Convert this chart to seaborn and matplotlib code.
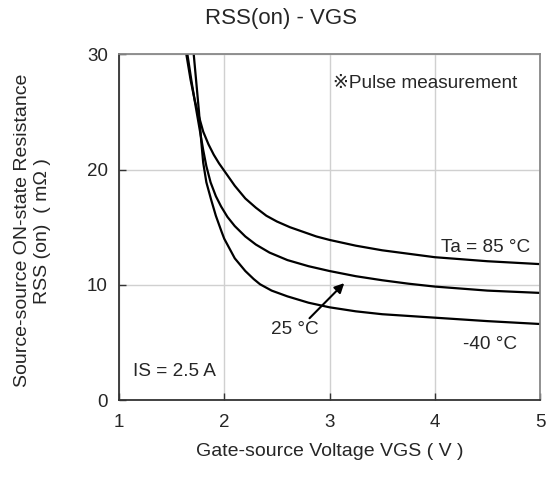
import pandas as pd
import seaborn as sns
import matplotlib.pyplot as plt

# VGS [V] -> RSS(on) [mOhm]
vgs_85 = [1.64, 1.68, 1.72, 1.76, 1.80, 1.85, 1.90, 1.95, 2.00, 2.10, 2.20,
          2.30, 2.40, 2.50, 2.625, 2.75, 2.875, 3.00, 3.25, 3.50, 3.75,
          4.00, 4.50, 5.00]
rss_85 = [30.0, 27.8, 26.0, 24.6, 23.3, 22.2, 21.3, 20.55, 19.9, 18.6, 17.5,
          16.7, 16.0, 15.5, 15.0, 14.6, 14.2, 13.9, 13.4, 13.0, 12.7,
          12.4, 12.05, 11.8]

vgs_25 = [1.65, 1.69, 1.73, 1.77, 1.80, 1.83, 1.87, 1.92, 1.97, 2.03, 2.10,
          2.20, 2.30, 2.43, 2.60, 2.80, 3.00, 3.25, 3.50, 3.75, 4.00, 4.50,
          5.00]
rss_25 = [30.0, 27.6, 25.4, 23.3, 21.7, 20.3, 18.9, 17.7, 16.8, 15.9, 15.1,
          14.2, 13.5, 12.8, 12.15, 11.62, 11.2, 10.75, 10.4, 10.1, 9.85, 9.5,
          9.3]

vgs_m40 = [1.71, 1.73, 1.76, 1.78, 1.80, 1.83, 1.875, 1.92, 1.975, 2.00, 2.10,
           2.20, 2.28, 2.34, 2.45, 2.60, 2.80, 3.00, 3.25, 3.50, 3.75, 4.00,
           4.50, 5.00]
rss_m40 = [30.0, 28.0, 25.0, 22.6, 20.6, 18.9, 17.4, 16.0, 14.6, 14.0, 12.3,
           11.2, 10.5, 10.05, 9.5, 9.0, 8.45, 8.05, 7.7, 7.45, 7.3, 7.15,
           6.85, 6.6]

temps = ['85', '25', '-40']

df = pd.concat([
    pd.DataFrame({'vgs': vgs_85, 'rss': rss_85, 'ta': '85'}),
    pd.DataFrame({'vgs': vgs_25, 'rss': rss_25, 'ta': '25'}),
    pd.DataFrame({'vgs': vgs_m40, 'rss': rss_m40, 'ta': '-40'}),
])

sns.set_style('white')
plt.rcParams['font.family'] = ['Liberation Sans', 'DejaVu Sans', 'Noto Sans CJK JP']

fig = plt.figure(figsize=(5.5, 4.83), dpi=100)
ax = fig.add_axes([0.2164, 0.1718, 0.7654, 0.7154])

sns.lineplot(data=df, x='vgs', y='rss', hue='ta', hue_order=temps,
             palette=['black'] * 3, linewidth=1.6, sort=False,
             legend=False, ax=ax)

ax.set_xlim(1, 5)
ax.set_ylim(0, 30)
ax.set_xticks([1, 2, 3, 4, 5])
ax.set_yticks([0, 10, 20, 30])
ax.grid(True, color='#d0d0d0', linewidth=1.0)
ax.set_axisbelow(True)

for side in ['left', 'bottom']:
    ax.spines[side].set_color('#333333')
    ax.spines[side].set_linewidth(1.3)
for side in ['top', 'right']:
    ax.spines[side].set_color('#888888')
    ax.spines[side].set_linewidth(1.3)

ax.tick_params(axis='both', direction='in', length=5, width=1.0,
               color='#333333', labelsize=13.5, left=True, bottom=True)
ax.tick_params(axis='x', pad=10)
ax.tick_params(axis='y', pad=8)

ax.set_xlabel('Gate-source Voltage VGS ( V )', fontsize=14)
ax.xaxis.set_label_coords(0.5, -0.125)
ax.set_ylabel('Source-source ON-state Resistance\nRSS (on)  ( m\u03a9 )',
              fontsize=14, linespacing=1.25)
ax.yaxis.set_label_coords(-0.162, 0.49)

fig.text(0.511, 0.962, 'RSS(on) - VGS', ha='center', va='center', fontsize=16)

ax.text(4.78, 27.5, '\u203bPulse measurement', ha='right', va='center',
        fontsize=13.7)
ax.text(4.485, 13.2, 'Ta = 85 \u00b0C', ha='center', va='center', fontsize=13.7)
ax.text(2.67, 6.1, '25 \u00b0C', ha='center', va='center', fontsize=13.7)
ax.text(4.53, 4.8, '-40 \u00b0C', ha='center', va='center', fontsize=13.7)
ax.text(1.13, 2.45, 'IS = 2.5 A', ha='left', va='center', fontsize=13.7)

ax.annotate('', xy=(3.14, 10.15), xytext=(2.81, 7.1),
            arrowprops=dict(arrowstyle='-|>', color='black', lw=1.5,
                            mutation_scale=14, shrinkA=0, shrinkB=0))

fig.savefig('out.png', dpi=100)
